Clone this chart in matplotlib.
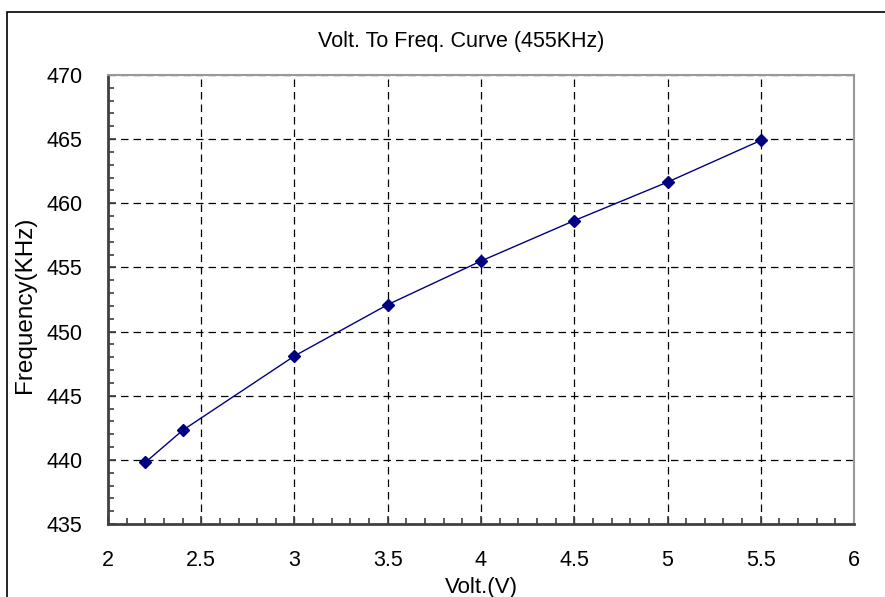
import matplotlib.pyplot as plt
from matplotlib.ticker import MultipleLocator
from matplotlib.patches import Rectangle

plt.rcParams['font.family'] = ['Liberation Sans', 'DejaVu Sans']

volt = [2.2, 2.4, 3.0, 3.5, 4.0, 4.5, 5.0, 5.5]
freq = [439.8, 442.3, 448.1, 452.1, 455.5, 458.65, 461.65, 464.9]
xticks = [2, 2.5, 3, 3.5, 4, 4.5, 5, 5.5, 6]
xticklabels = ['2', '2.5', '3', '3.5', '4', '4.5', '5', '5.5', '6']

W, H = 885, 597
fig = plt.figure(figsize=(W / 100, H / 100), dpi=100)
ax = fig.add_axes([108 / W, 1 - 524 / H, (854 - 108) / W, (524 - 75) / H])

# outer chart frame (runs off the right/bottom edge like the original)
fig.patches.append(Rectangle((7 / W, -0.1), 1.2, 1 - 12 / H + 0.1,
                             transform=fig.transFigure, fill=False,
                             edgecolor='black', linewidth=1.2))

ax.plot(volt, freq, color='#000080', linewidth=1.0, marker='D',
        markersize=6, markerfacecolor='#000080', markeredgecolor='#000080',
        zorder=3)

ax.set_xlim(2, 6)
ax.set_ylim(435, 470)
ax.xaxis.set_minor_locator(MultipleLocator(0.1))
ax.yaxis.set_major_locator(MultipleLocator(5))
ax.yaxis.set_minor_locator(MultipleLocator(1))
ax.set_xticks(xticks)
ax.set_xticklabels(xticklabels)

ax.tick_params(which='both', direction='in', color='#404040', width=1.2,
               top=False, right=False, labelsize=15.5)
ax.tick_params(which='major', length=6, pad=18.5)
ax.tick_params(which='minor', length=4)

ax.grid(True, which='major', color='black', linestyle=(0, (6, 4)),
        linewidth=0.9)

for s in ['left', 'bottom']:
    ax.spines[s].set_color('#404040')
    ax.spines[s].set_linewidth(2)
for s in ['top', 'right']:
    ax.spines[s].set_color('#999999')
    ax.spines[s].set_linewidth(1.5)

fig.text(481 / W, 1 - 588 / H, 'Volt.(V)', ha='center', va='center',
         fontsize=16)
fig.text(25 / W, 1 - 305 / H, 'Frequency(KHz)', ha='center', va='center',
         rotation=90, fontsize=17.5)
fig.text(461 / W, 1 - 42 / H, 'Volt. To Freq. Curve (455KHz)',
         ha='center', va='center', fontsize=15.5)

fig.savefig('out.png', dpi=100)
